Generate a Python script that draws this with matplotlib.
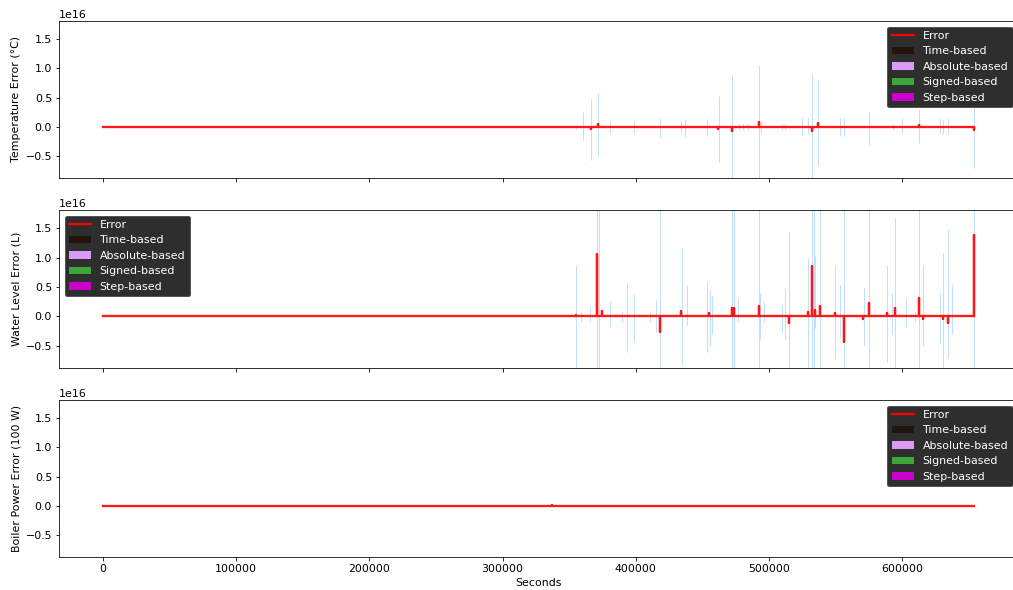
import numpy as np
import matplotlib.pyplot as plt
from matplotlib.lines import Line2D
from matplotlib.patches import Patch

plt.rcParams['font.size'] = 11

# error series: flat at zero from t_start to t_end with spikes (values in units of 1e16)
t_start = 0
t_end = 654000

temp_spike_t = [366500, 371300, 462000, 472300, 492300, 532000, 536500, 612300, 653800]
temp_spike_v = [-0.04, 0.05, -0.04, -0.07, 0.08, -0.07, 0.06, 0.03, -0.05]

water_spike_t = [355500, 370800, 374600, 418300, 433800, 455000, 472300, 473800, 492300,
                 515000, 529000, 532000, 534500, 537800, 549500, 556500, 570500, 575000,
                 588300, 594300, 612300, 615300, 630800, 634500, 653800]
water_spike_v = [0.03, 1.065, 0.1, -0.27, 0.1, 0.05, 0.15, 0.15, 0.18,
                 -0.11, 0.07, 0.85, 0.11, 0.17, 0.05, -0.43, -0.04, 0.23,
                 0.05, 0.14, 0.31, -0.04, -0.05, -0.12, 1.38]

power_spike_t = [337000, 341000]
power_spike_v = [0.005, -0.005]

# light blue band spikes: time, upper, lower (1e16)
temp_band_t = [355300, 360750, 366750, 371550, 380300, 399000, 418300, 434000, 437000,
               453300, 462300, 472500, 477300, 480300, 484000, 492300, 493800, 509500,
               512000, 524500, 528800, 532000, 536500, 552800, 556500, 575000, 593300,
               599500, 612300, 628300, 630800, 634500, 653800]
temp_band_hi = [0.03, 0.26, 0.48, 0.57, 0.1, 0.1, 0.15, 0.1, 0.14,
                0.14, 0.52, 0.88, 0.05, 0.05, 0.05, 1.05, 0.1, 0.05,
                0.05, 0.15, 0.15, 0.91, 0.8, 0.15, 0.15, 0.27, 0.05,
                0.15, 0.31, 0.15, 0.12, 0.15, 0.48]
temp_band_lo = [-0.03, -0.23, -0.57, -0.5, -0.1, -0.1, -0.2, -0.1, -0.18,
                -0.16, -0.61, -2.5, -0.05, -0.05, -0.05, -2.5, -0.1, -0.05,
                -0.05, -0.15, -0.12, -2.5, -0.68, -0.15, -0.15, -0.31, -0.05,
                -0.1, -0.27, -0.1, -0.12, -0.12, -0.71]

water_band_t = [355500, 358800, 365300, 370800, 372300, 380300, 389600, 393300, 399000,
                410800, 415300, 417800, 434600, 438300, 453300, 455300, 457000, 472500,
                473800, 476500, 492300, 493500, 496300, 509500, 512000, 515000, 529000,
                532000, 533600, 534500, 537800, 549500, 552800, 556500, 571300, 575000,
                588300, 592000, 594500, 602500, 609500, 612300, 615300, 628300, 630800,
                634500, 637000, 653800]
water_band_hi = [0.88, 0.1, 0.15, 2.5, 2.5, 0.27, 0.1, 0.57, 0.38,
                 0.08, 0.28, 2.5, 1.18, 0.51, 0.6, 0.45, 0.35, 2.5,
                 2.5, 0.3, 2.5, 0.4, 0.25, 0.2, 0.46, 1.45, 1.0,
                 2.5, 2.5, 1.02, 2.5, 0.88, 0.54, 2.5, 0.48, 2.5,
                 0.88, 0.4, 1.68, 0.3, 0.1, 2.5, 0.88, 0.4, 1.08,
                 1.48, 0.55, 2.5]
water_band_lo = [-1.0, -0.1, -0.1, -2.5, -2.5, -0.2, -0.1, -0.6, -0.43,
                 -0.1, -0.26, -2.5, -0.82, -0.14, -0.6, -0.5, -0.3, -2.5,
                 -2.5, -0.1, -2.5, -0.38, -0.1, -0.26, -0.4, -2.5, -2.5,
                 -2.5, -2.5, -0.2, -2.5, -0.74, -0.37, -2.5, -0.48, -2.5,
                 -0.77, -0.3, -2.5, -0.2, -0.1, -2.5, -0.5, -0.45, -2.5,
                 -0.7, -0.3, -2.5]

power_band_t = [336000, 339000, 343000]
power_band_hi = [0.01, 0.01, 0.01]
power_band_lo = [-0.01, -0.01, -0.01]

ylabels = ["Temperature Error (\u00b0C)", "Water Level Error (L)", "Boiler Power Error (100 W)"]
legend_names = ["Error", "Time-based", "Absolute-based", "Signed-based", "Step-based"]
legend_colors = ["red", "#22140a", "#d89cf6", "#3da53a", "#cc00cc"]
legend_locs = ["upper right", "upper left", "upper right"]

SCALE = 1e16


def error_series(spike_t, spike_v):
    t = [t_start]
    v = [0.0]
    for s, val in sorted(zip(spike_t, spike_v)):
        t += [s, s, s]
        v += [0.0, val, 0.0]
    t.append(t_end)
    v.append(0.0)
    return np.array(t), np.array(v) * SCALE


panels = [
    (temp_spike_t, temp_spike_v, temp_band_t, temp_band_hi, temp_band_lo),
    (water_spike_t, water_spike_v, water_band_t, water_band_hi, water_band_lo),
    (power_spike_t, power_spike_v, power_band_t, power_band_hi, power_band_lo),
]

fig = plt.figure(figsize=(1013 / 72, 590 / 72), dpi=72)
# axes boxes in pixels (top, bottom) -> figure fractions
boxes = [(21, 178), (210, 368), (400, 557)]
left = 59 / 1013
width = (1018 - 59) / 1013

axes = []
for i, (top, bot) in enumerate(boxes):
    ax = fig.add_axes([left, 1 - bot / 590, width, (bot - top) / 590])
    axes.append(ax)

for i, ax in enumerate(axes):
    st, sv, bt, bhi, blo = panels[i]
    ax.vlines(bt, np.array(blo) * SCALE, np.array(bhi) * SCALE,
              color="#3399ff", alpha=0.3, lw=1.1)
    t, v = error_series(st, sv)
    ax.plot(t, v, color="red", lw=2.3, alpha=0.9)
    ax.set_xlim(-32700, 686700)
    ax.set_ylim(-0.877 * SCALE, 1.81 * SCALE)
    ax.set_xticks(np.arange(0, 700000, 100000))
    ax.set_ylabel(ylabels[i])
    if i < 2:
        ax.tick_params(labelbottom=False)

    handles = [Line2D([0], [0], color=legend_colors[0], lw=2.3)]
    handles += [Patch(facecolor=c) for c in legend_colors[1:]]
    leg = ax.legend(handles, legend_names, loc=legend_locs[i], facecolor="#2e2e2e",
                    edgecolor="#555555", framealpha=1)
    for txt in leg.get_texts():
        txt.set_color("white")

axes[2].set_xlabel("Seconds")

plt.savefig("out.png", dpi=72)
